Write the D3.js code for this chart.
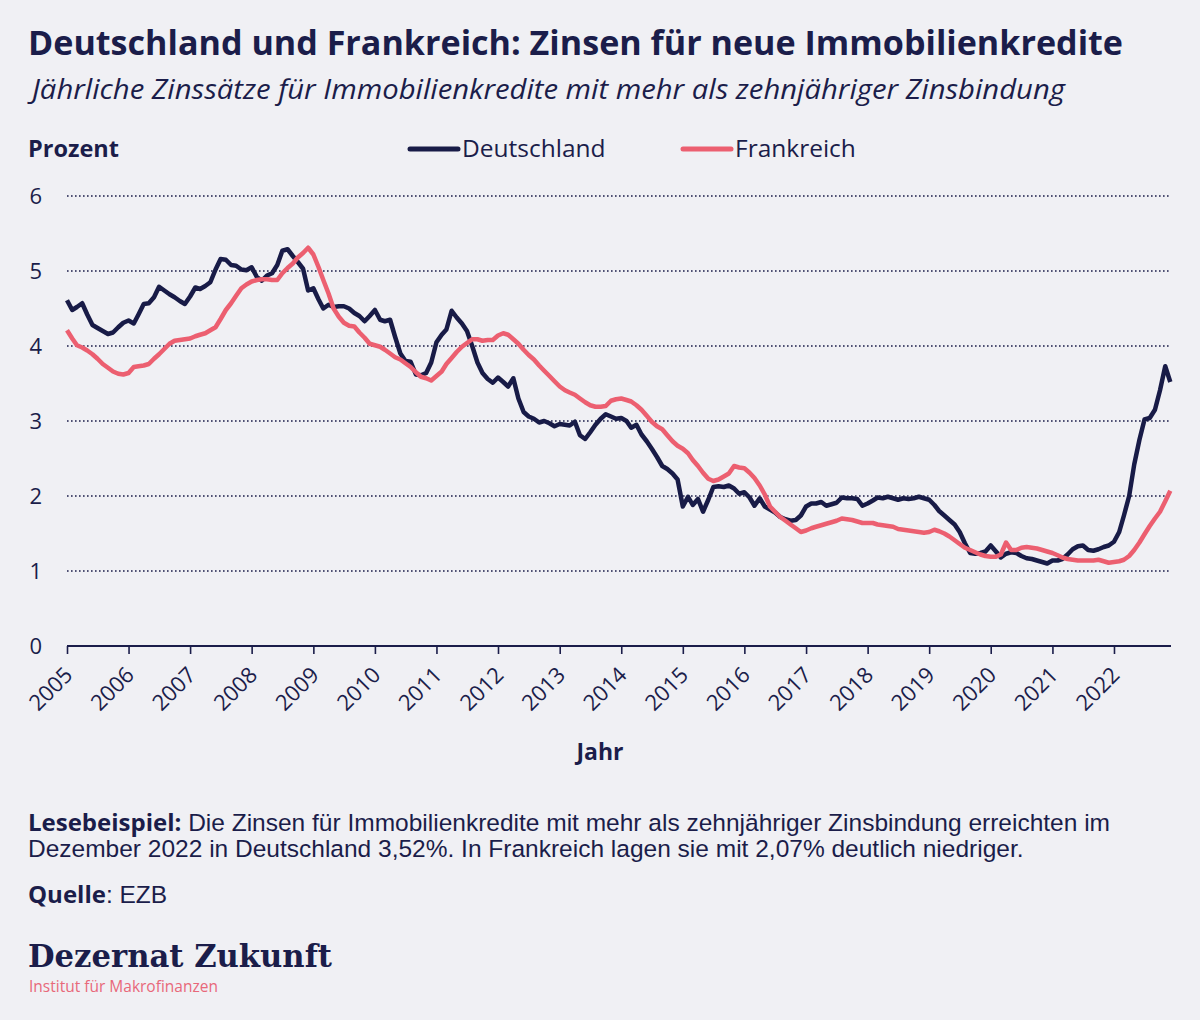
<!DOCTYPE html>
<html lang="de">
<head>
<meta charset="utf-8">
<script src="https://cdn.jsdelivr.net/npm/d3@7"></script>
<style>
  html, body { margin: 0; padding: 0; background: #f0f0f4; }
  svg { display: block; }
</style>
</head>
<body>
<div id="app"></div>
<script>
// Monatswerte Jan 2005 bis Dez 2022, in Prozent
const deutschland = [
  4.61, 4.48, 4.52, 4.57, 4.42, 4.28, 4.24, 4.20, 4.16, 4.18, 4.25, 4.31, // 2005
  4.34, 4.30, 4.42, 4.56, 4.57, 4.65, 4.79, 4.74, 4.69, 4.65, 4.60, 4.56, // 2006
  4.66, 4.78, 4.76, 4.80, 4.85, 5.02, 5.16, 5.15, 5.08, 5.07, 5.02, 5.01, // 2007
  5.05, 4.92, 4.87, 4.94, 4.97, 5.08, 5.27, 5.29, 5.20, 5.12, 5.03, 4.74, // 2008
  4.77, 4.62, 4.50, 4.55, 4.52, 4.53, 4.53, 4.50, 4.44, 4.40, 4.33, 4.40, // 2009
  4.48, 4.35, 4.33, 4.35, 4.12, 3.90, 3.80, 3.79, 3.62, 3.61, 3.64, 3.78, // 2010
  4.05, 4.15, 4.22, 4.47, 4.38, 4.30, 4.20, 4.00, 3.78, 3.64, 3.56, 3.51, // 2011
  3.58, 3.52, 3.46, 3.57, 3.30, 3.12, 3.06, 3.03, 2.98, 3.00, 2.97, 2.93, // 2012
  2.96, 2.95, 2.94, 2.99, 2.81, 2.76, 2.85, 2.95, 3.03, 3.09, 3.06, 3.03, // 2013
  3.04, 3.00, 2.91, 2.95, 2.82, 2.73, 2.63, 2.52, 2.40, 2.36, 2.30, 2.22, // 2014
  1.86, 1.99, 1.88, 1.96, 1.79, 1.95, 2.12, 2.13, 2.12, 2.14, 2.10, 2.03, // 2015
  2.05, 1.98, 1.87, 1.97, 1.86, 1.82, 1.78, 1.72, 1.69, 1.67, 1.68, 1.74, // 2016
  1.86, 1.90, 1.90, 1.92, 1.87, 1.89, 1.91, 1.98, 1.97, 1.97, 1.96, 1.87, // 2017
  1.90, 1.94, 1.98, 1.97, 1.99, 1.97, 1.95, 1.97, 1.96, 1.97, 1.99, 1.97, // 2018
  1.95, 1.88, 1.80, 1.74, 1.68, 1.62, 1.52, 1.37, 1.24, 1.23, 1.24, 1.26, // 2019
  1.34, 1.26, 1.18, 1.23, 1.25, 1.24, 1.20, 1.17, 1.16, 1.14, 1.12, 1.10, // 2020
  1.14, 1.14, 1.16, 1.22, 1.29, 1.33, 1.34, 1.28, 1.27, 1.29, 1.32, 1.34, // 2021
  1.39, 1.52, 1.74, 2.00, 2.42, 2.75, 3.02, 3.04, 3.15, 3.41, 3.73, 3.52  // 2022
];

const frankreich = [
  4.21, 4.10, 4.01, 3.98, 3.94, 3.89, 3.83, 3.76, 3.71, 3.66, 3.63, 3.62, // 2005
  3.64, 3.72, 3.73, 3.74, 3.76, 3.83, 3.89, 3.96, 4.03, 4.07, 4.08, 4.09, // 2006
  4.10, 4.13, 4.15, 4.17, 4.21, 4.25, 4.36, 4.48, 4.57, 4.67, 4.77, 4.82, // 2007
  4.86, 4.88, 4.89, 4.89, 4.88, 4.88, 4.97, 5.04, 5.10, 5.18, 5.24, 5.31, // 2008
  5.22, 5.05, 4.88, 4.70, 4.50, 4.39, 4.31, 4.27, 4.26, 4.18, 4.11, 4.03, // 2009
  4.01, 3.99, 3.95, 3.90, 3.85, 3.82, 3.77, 3.72, 3.65, 3.59, 3.57, 3.54, // 2010
  3.60, 3.66, 3.76, 3.84, 3.92, 3.99, 4.04, 4.09, 4.09, 4.07, 4.08, 4.08, // 2011
  4.14, 4.17, 4.15, 4.09, 4.03, 3.95, 3.88, 3.82, 3.74, 3.67, 3.60, 3.53, // 2012
  3.46, 3.41, 3.38, 3.35, 3.30, 3.25, 3.21, 3.19, 3.19, 3.20, 3.27, 3.29, // 2013
  3.30, 3.28, 3.26, 3.21, 3.15, 3.07, 2.99, 2.93, 2.89, 2.81, 2.73, 2.67, // 2014
  2.63, 2.57, 2.48, 2.40, 2.31, 2.23, 2.20, 2.22, 2.26, 2.30, 2.40, 2.38, // 2015
  2.37, 2.31, 2.24, 2.14, 2.02, 1.86, 1.79, 1.72, 1.67, 1.62, 1.57, 1.52, // 2016
  1.54, 1.57, 1.59, 1.61, 1.63, 1.65, 1.67, 1.70, 1.69, 1.68, 1.66, 1.64, // 2017
  1.64, 1.64, 1.62, 1.61, 1.60, 1.59, 1.56, 1.55, 1.54, 1.53, 1.52, 1.51, // 2018
  1.52, 1.55, 1.53, 1.50, 1.46, 1.41, 1.36, 1.31, 1.28, 1.25, 1.22, 1.20, // 2019
  1.19, 1.19, 1.22, 1.38, 1.28, 1.28, 1.31, 1.32, 1.31, 1.30, 1.28, 1.26, // 2020
  1.24, 1.21, 1.18, 1.16, 1.15, 1.14, 1.14, 1.14, 1.14, 1.15, 1.13, 1.11, // 2021
  1.12, 1.13, 1.15, 1.20, 1.28, 1.38, 1.49, 1.60, 1.70, 1.79, 1.93, 2.07  // 2022
];

const startYear = 2005;
const yearTicks = d3.range(2005, 2023);
const yTicks = [0, 1, 2, 3, 4, 5, 6];
const seriesNames = ["Deutschland", "Frankreich"];
const seriesColors = ["#181b47", "#ec5f70"];

const navy = "#1b1d4a";
const W = 1200, H = 1020;
const margin = { left: 67, right: 1171, top: 196, bottom: 646 };

const svg = d3.select("#app")
  .append("svg")
  .attr("width", W)
  .attr("height", H)
  .style("font-family", "'Open Sans', sans-serif");

svg.append("rect").attr("width", W).attr("height", H).attr("fill", "#f0f0f4");

const monthDate = i => new Date(startYear + Math.floor(i / 12), i % 12, 1);

const x = d3.scaleTime()
  .domain([new Date(2005, 0, 1), new Date(2022, 11, 1)])
  .range([margin.left, 1170.3]);

const y = d3.scaleLinear()
  .domain([0, 6])
  .range([margin.bottom, margin.top]);

// Titel
svg.append("text")
  .attr("x", 28).attr("y", 55)
  .attr("fill", navy)
  .attr("font-size", 34)
  .attr("font-weight", 700)
  .attr("textLength", 1095)
  .attr("lengthAdjust", "spacingAndGlyphs")
  .text("Deutschland und Frankreich: Zinsen für neue Immobilienkredite");

svg.append("text")
  .attr("x", 32).attr("y", 99)
  .attr("fill", navy)
  .attr("font-size", 28)
  .attr("font-style", "italic")
  .attr("textLength", 1033)
  .attr("lengthAdjust", "spacingAndGlyphs")
  .text("Jährliche Zinssätze für Immobilienkredite mit mehr als zehnjähriger Zinsbindung");

svg.append("text")
  .attr("x", 28).attr("y", 157)
  .attr("fill", navy)
  .attr("font-size", 23.5)
  .attr("font-weight", 700)
  .text("Prozent");

// Legende
const legendX = [410, 683];
seriesNames.forEach((name, i) => {
  svg.append("line")
    .attr("x1", legendX[i]).attr("x2", legendX[i] + 48)
    .attr("y1", 149).attr("y2", 149)
    .attr("stroke", seriesColors[i])
    .attr("stroke-width", 5)
    .attr("stroke-linecap", "round");
  svg.append("text")
    .attr("x", legendX[i] + 52).attr("y", 157)
    .attr("fill", navy)
    .attr("font-size", 24.5)
    .text(name);
});

// Gitterlinien
svg.append("g")
  .selectAll("line")
  .data(yTicks.filter(d => d > 0))
  .join("line")
  .attr("x1", margin.left).attr("x2", margin.right)
  .attr("y1", d => y(d)).attr("y2", d => y(d))
  .attr("stroke", navy)
  .attr("stroke-width", 1.6)
  .attr("stroke-dasharray", "1.6,2.4");

// y-Achse (nur Beschriftung)
svg.append("g")
  .selectAll("text")
  .data(yTicks)
  .join("text")
  .attr("x", 42)
  .attr("y", d => y(d) + 8)
  .attr("text-anchor", "end")
  .attr("fill", navy)
  .attr("font-size", 22)
  .text(d => d);

// x-Achse
const xAxis = svg.append("g")
  .attr("transform", `translate(0,${margin.bottom})`)
  .call(d3.axisBottom(x)
    .tickValues(yearTicks.map(yr => new Date(yr, 0, 1)))
    .tickFormat(d3.timeFormat("%Y"))
    .tickSize(8)
    .tickSizeOuter(0));

xAxis.select(".domain")
  .attr("stroke", navy)
  .attr("stroke-width", 2)
  .attr("d", `M${margin.left},0H${margin.right}`);
xAxis.selectAll(".tick line").attr("stroke", navy).attr("stroke-width", 1.6);
xAxis.selectAll(".tick text")
  .attr("fill", navy)
  .attr("font-size", 22)
  .attr("font-family", "'Open Sans', sans-serif")
  .attr("text-anchor", "end")
  .attr("y", 0)
  .attr("dy", "0.35em")
  .attr("transform", "translate(1,25) rotate(-45)");

svg.append("text")
  .attr("x", 600).attr("y", 760)
  .attr("text-anchor", "middle")
  .attr("fill", navy)
  .attr("font-size", 23)
  .attr("font-weight", 700)
  .text("Jahr");

// Linien
const line = d3.line()
  .x((d, i) => x(monthDate(i)))
  .y(d => y(d));

[deutschland, frankreich].forEach((series, i) => {
  svg.append("path")
    .datum(series)
    .attr("fill", "none")
    .attr("stroke", seriesColors[i])
    .attr("stroke-width", 4.5)
    .attr("stroke-linejoin", "round")
    .attr("d", line);
});

// Fußtext
const note = svg.append("g")
  .attr("font-family", "'Liberation Sans', Arial, sans-serif")
  .attr("font-size", 24.5)
  .attr("fill", navy);

const l1 = note.append("text").attr("x", 28).attr("y", 831);
l1.append("tspan").attr("font-weight", 700).attr("font-family", "'Open Sans', sans-serif")
  .attr("font-size", 24).text("Lesebeispiel:");
l1.append("tspan").text(" Die Zinsen für Immobilienkredite mit mehr als zehnjähriger Zinsbindung erreichten im");

note.append("text").attr("x", 28).attr("y", 857)
  .text("Dezember 2022 in Deutschland 3,52%. In Frankreich lagen sie mit 2,07% deutlich niedriger.");

const q = note.append("text").attr("x", 28).attr("y", 903);
q.append("tspan").attr("font-weight", 700).attr("font-family", "'Open Sans', sans-serif")
  .attr("font-size", 24).text("Quelle");
q.append("tspan").text(": EZB");

svg.append("text")
  .attr("x", 28).attr("y", 967)
  .attr("fill", navy)
  .attr("font-family", "'DejaVu Serif', serif")
  .attr("font-weight", 700)
  .attr("font-size", 32)
  .attr("textLength", 304)
  .attr("lengthAdjust", "spacingAndGlyphs")
  .text("Dezernat Zukunft");

svg.append("text")
  .attr("x", 29).attr("y", 992)
  .attr("fill", "#e8687a")
  .attr("font-size", 15.5)
  .text("Institut für Makrofinanzen");
</script>
</body>
</html>
